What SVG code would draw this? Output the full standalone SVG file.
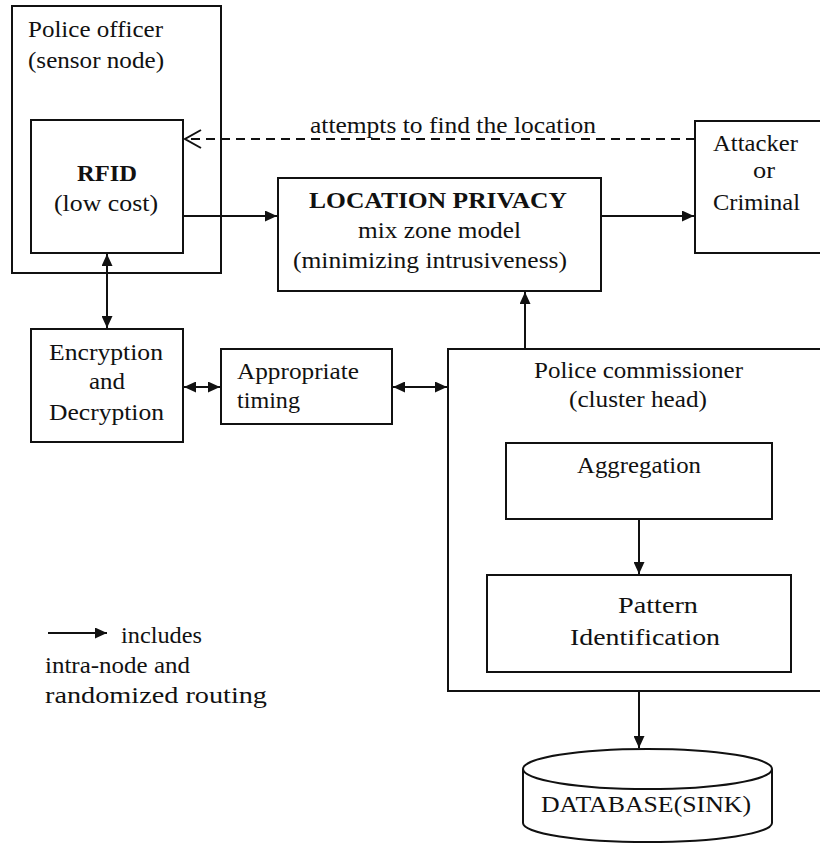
<svg xmlns="http://www.w3.org/2000/svg" width="820" height="843" viewBox="0 0 820 843">
<style>
.box{fill:#fff;stroke:#111;stroke-width:2}
.ln{fill:none;stroke:#111;stroke-width:2}
.dash{fill:none;stroke:#111;stroke-width:2;stroke-dasharray:9 6}
text{font-family:"Liberation Serif","Times New Roman",serif;font-size:23px;fill:#111}
.b{font-weight:bold}
</style>
<defs>
<marker id="ah" markerUnits="userSpaceOnUse" markerWidth="13" markerHeight="11" refX="12" refY="5.5" orient="auto-start-reverse">
<path d="M0,0 L12,5.5 L0,11 z" fill="#111"/>
</marker>
</defs>
<rect width="820" height="843" fill="#fff"/>

<g id="police-officer">
<rect class="box" x="12" y="6" width="209" height="267"/>
<text x="28" y="37" textLength="135" lengthAdjust="spacingAndGlyphs">Police officer</text>
<text x="28" y="68" textLength="136" lengthAdjust="spacingAndGlyphs">(sensor node)</text>
</g>
<g id="rfid">
<rect class="box" x="31" y="120" width="152" height="133"/>
<text class="b" x="77" y="181" textLength="60" lengthAdjust="spacingAndGlyphs">RFID</text>
<text x="54" y="211" textLength="104" lengthAdjust="spacingAndGlyphs">(low cost)</text>
</g>
<g id="location-privacy">
<rect class="box" x="278" y="178" width="323" height="113"/>
<text class="b" x="309" y="208" textLength="258" lengthAdjust="spacingAndGlyphs">LOCATION PRIVACY</text>
<text x="358" y="238" textLength="163" lengthAdjust="spacingAndGlyphs">mix zone model</text>
<text x="293" y="268" textLength="274" lengthAdjust="spacingAndGlyphs">(minimizing intrusiveness)</text>
</g>
<g id="attacker">
<rect class="box" x="695" y="121" width="140" height="132"/>
<text x="713" y="151" textLength="85" lengthAdjust="spacingAndGlyphs">Attacker</text>
<text x="753" y="178" textLength="22" lengthAdjust="spacingAndGlyphs">or</text>
<text x="713" y="210" textLength="87" lengthAdjust="spacingAndGlyphs">Criminal</text>
</g>
<g id="encryption">
<rect class="box" x="31" y="329" width="152" height="113"/>
<text x="49" y="360" textLength="114" lengthAdjust="spacingAndGlyphs">Encryption</text>
<text x="89" y="389" textLength="36" lengthAdjust="spacingAndGlyphs">and</text>
<text x="49" y="420" textLength="115" lengthAdjust="spacingAndGlyphs">Decryption</text>
</g>
<g id="timing">
<rect class="box" x="221" y="349" width="171" height="75"/>
<text x="237" y="379" textLength="122" lengthAdjust="spacingAndGlyphs">Appropriate</text>
<text x="237" y="408" textLength="63" lengthAdjust="spacingAndGlyphs">timing</text>
</g>
<g id="commissioner">
<rect class="box" x="448" y="349" width="390" height="342"/>
<text x="534" y="378" textLength="209" lengthAdjust="spacingAndGlyphs">Police commissioner</text>
<text x="569" y="407" textLength="138" lengthAdjust="spacingAndGlyphs">(cluster head)</text>
</g>
<g id="aggregation">
<rect class="box" x="506" y="443" width="266" height="76"/>
<text x="577" y="473" textLength="124" lengthAdjust="spacingAndGlyphs">Aggregation</text>
</g>
<g id="pattern">
<rect class="box" x="487" y="575" width="304" height="97"/>
<text x="618" y="613" textLength="80" lengthAdjust="spacingAndGlyphs">Pattern</text>
<text x="570" y="645" textLength="150" lengthAdjust="spacingAndGlyphs">Identification</text>
</g>
<g id="database">
<path class="box" d="M523,769 L523,823 A124.5,19 0 0 0 772,823 L772,769"/>
<ellipse class="box" cx="647.5" cy="769" rx="124.5" ry="20"/>
<text x="541" y="812" textLength="210" lengthAdjust="spacingAndGlyphs">DATABASE(SINK)</text>
</g>
<g id="legend">
<line class="ln" x1="48" y1="633" x2="107" y2="633" marker-end="url(#ah)"/>
<text x="121" y="643" textLength="81" lengthAdjust="spacingAndGlyphs">includes</text>
<text x="45" y="673" textLength="145" lengthAdjust="spacingAndGlyphs">intra-node and</text>
<text x="45" y="703" textLength="222" lengthAdjust="spacingAndGlyphs">randomized routing</text>
</g>

<g id="connectors">
<line class="dash" x1="695" y1="139" x2="186" y2="139"/>
<path class="ln" d="M201,130 L185,139 L201,148"/>
<text x="310" y="133" textLength="286" lengthAdjust="spacingAndGlyphs">attempts to find the location</text>
<line class="ln" x1="183" y1="216" x2="277" y2="216" marker-end="url(#ah)"/>
<line class="ln" x1="601" y1="216" x2="694" y2="216" marker-end="url(#ah)"/>
<line class="ln" x1="107" y1="254" x2="107" y2="328" marker-start="url(#ah)" marker-end="url(#ah)"/>
<line class="ln" x1="184" y1="387" x2="220" y2="387" marker-start="url(#ah)" marker-end="url(#ah)"/>
<line class="ln" x1="393" y1="387" x2="447" y2="387" marker-start="url(#ah)" marker-end="url(#ah)"/>
<line class="ln" x1="525" y1="348" x2="525" y2="292" marker-end="url(#ah)"/>
<line class="ln" x1="639" y1="519" x2="639" y2="574" marker-end="url(#ah)"/>
<line class="ln" x1="639" y1="691" x2="639" y2="748" marker-end="url(#ah)"/>
</g>
</svg>
